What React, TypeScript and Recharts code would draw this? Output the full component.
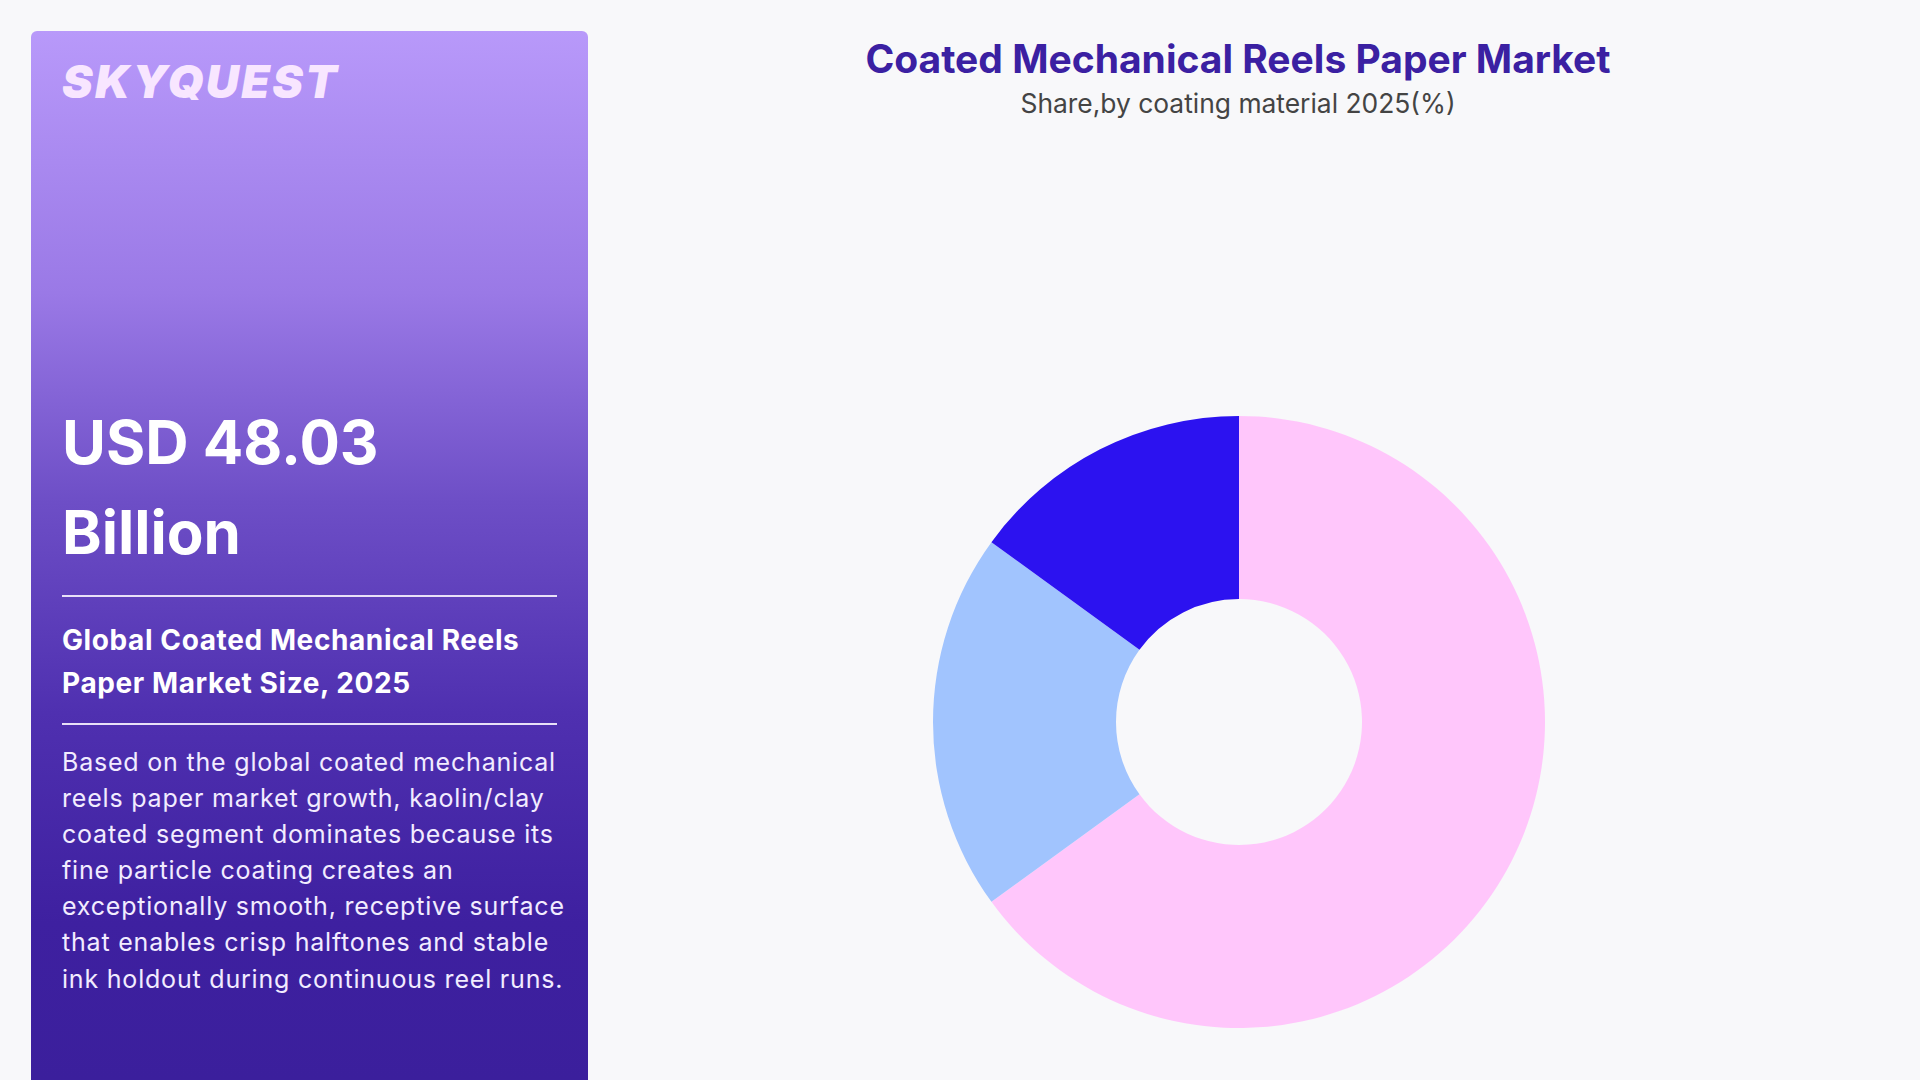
import { PieChart, Pie, Cell } from 'recharts';

// segment shares, clockwise from 12 o'clock
const segments = ['Kaolin/Clay Coated', 'Calcium Carbonate Coated', 'Other Coatings'];
const shares = [65, 20, 15];
const colors = ['#FFC6FB', '#A1C4FE', '#2C12F0'];

const data = segments.map((name, i) => ({ name, value: shares[i] }));

const font = 'Inter, "Noto Sans", sans-serif';

const paragraph = [
  'Based on the global coated mechanical',
  'reels paper market growth, kaolin/clay',
  'coated segment dominates because its',
  'fine particle coating creates an',
  'exceptionally smooth, receptive surface',
  'that enables crisp halftones and stable',
  'ink holdout during continuous reel runs.',
];

function SidePanel() {
  return (
    <div
      style={{
        position: 'absolute',
        left: 31,
        top: 31,
        width: 557,
        height: 1049,
        borderRadius: '6px 6px 0 0',
        background: 'linear-gradient(180deg, #B899FA 0%, #9a79e6 25%, #6d4ec6 45%, #4f30b0 65%, #3e20a0 85%, #3b1f9c 100%)',
        color: '#fff',
        fontFamily: font,
      }}
    >
      <div
        style={{
          position: 'absolute',
          left: 31,
          top: 22,
          fontSize: 46,
          fontWeight: 900,
          fontStyle: 'italic',
          letterSpacing: 2.3,
          color: '#F8E6FF',
        }}
      >
        SKYQUEST
      </div>
      <div style={{ position: 'absolute', left: 31, top: 366, fontSize: 60, fontWeight: 700, lineHeight: '90px' }}>
        USD 48.03
        <br />
        Billion
      </div>
      <div style={{ position: 'absolute', left: 31, top: 564, width: 495, height: 2, background: '#e8e0f8' }} />
      <div
        style={{
          position: 'absolute',
          left: 31,
          top: 588,
          fontSize: 28,
          fontWeight: 700,
          letterSpacing: 0.6,
          lineHeight: '43px',
          whiteSpace: 'nowrap',
        }}
      >
        Global Coated Mechanical Reels
        <br />
        Paper Market Size, 2025
      </div>
      <div style={{ position: 'absolute', left: 31, top: 692, width: 495, height: 2, background: '#e8e0f8' }} />
      <div
        style={{
          position: 'absolute',
          left: 31,
          top: 713,
          fontSize: 25,
          fontWeight: 400,
          letterSpacing: 0.8,
          lineHeight: '36.1px',
          color: '#F2ECFF',
        }}
      >
        {paragraph.map((line) => (
          <div key={line} style={{ whiteSpace: 'nowrap' }}>
            {line}
          </div>
        ))}
      </div>
    </div>
  );
}

export default function App() {
  return (
    <div
      style={{
        position: 'absolute',
        left: 0,
        top: 0,
        width: 1920,
        height: 1080,
        background: '#F8F8FA',
        overflow: 'hidden',
        fontFamily: font,
      }}
    >
      <SidePanel />
      <div
        style={{
          position: 'absolute',
          left: 738,
          width: 1000,
          top: 35,
          textAlign: 'center',
          fontSize: 39,
          fontWeight: 700,
          color: '#3B20A2',
        }}
      >
        Coated Mechanical Reels Paper Market
      </div>
      <div
        style={{
          position: 'absolute',
          left: 738,
          width: 1000,
          top: 87,
          textAlign: 'center',
          fontSize: 26.4,
          fontWeight: 400,
          color: '#444',
        }}
      >
        Share,by coating material 2025(%)
      </div>
      <div style={{ position: 'absolute', left: 884, top: 367 }}>
        <PieChart width={700} height={700}>
          <Pie
            data={data}
            dataKey="value"
            nameKey="name"
            cx={350}
            cy={350}
            innerRadius={123}
            outerRadius={306}
            startAngle={90}
            endAngle={-270}
            stroke="none"
            isAnimationActive={false}
          >
            {data.map((d, i) => (
              <Cell key={d.name} fill={colors[i]} />
            ))}
          </Pie>
        </PieChart>
      </div>
    </div>
  );
}
